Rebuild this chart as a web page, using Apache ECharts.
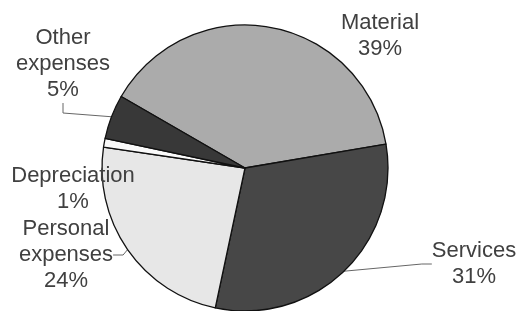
<!DOCTYPE html>
<html lang="en">
	<head>
		<meta charset="UTF-8" />
		<title>eCharts</title>
		<script src="https://cdn.jsdelivr.net/npm/echarts@6/dist/echarts.min.js"></script>
		<style>
			body { margin: 0; background: #fff; }
		</style>
	</head>
	<body>
		<div id="main" style="width: 524px; height: 311px"></div>
		<script type="text/javascript">
			// cost shares, in percent, clockwise from Material
			const categories = ["Material", "Services", "Personal expenses", "Depreciation", "Other expenses"];
			const shares = [39, 31, 24, 1, 5];
			const colors = ["#ababab", "#474747", "#e7e7e7", "#fafafa", "#383838"];

			// where each label block sits (centre)
			const labelSpots = [
				[380, 36],
				[474, 264],
				[66, 255],
				[73, 189],
				[63, 64],
			];

			let chart = echarts.init(document.getElementById("main"));
			chart.setOption({
				animation: false,
				series: [
					{
						type: "pie",
						center: [245, 168],
						radius: 143,
						startAngle: 150,
						clockwise: true,
						itemStyle: { borderColor: "#111", borderWidth: 1.3 },
						label: {
							formatter: (p) => p.name.replace(" ", "\n") + "\n" + p.value + "%",
							fontFamily: "Liberation Sans",
							fontSize: 22,
							lineHeight: 26,
							color: "#404040",
							align: "center",
							overflow: "none",
						},
						labelLine: {
							show: true,
							length: 10,
							length2: 10,
							lineStyle: { color: "#666", width: 1 },
						},
						labelLayout: (params) => {
							const s = labelSpots[params.dataIndex];
							return { x: s[0], y: s[1], align: "center", verticalAlign: "middle" };
						},
						data: categories.map((name, i) => ({
							name,
							value: shares[i],
							itemStyle: { color: colors[i] },
							labelLine: { show: name !== "Depreciation" && name !== "Material" },
						})),
					},
				],
			});
		</script>
	</body>
</html>
